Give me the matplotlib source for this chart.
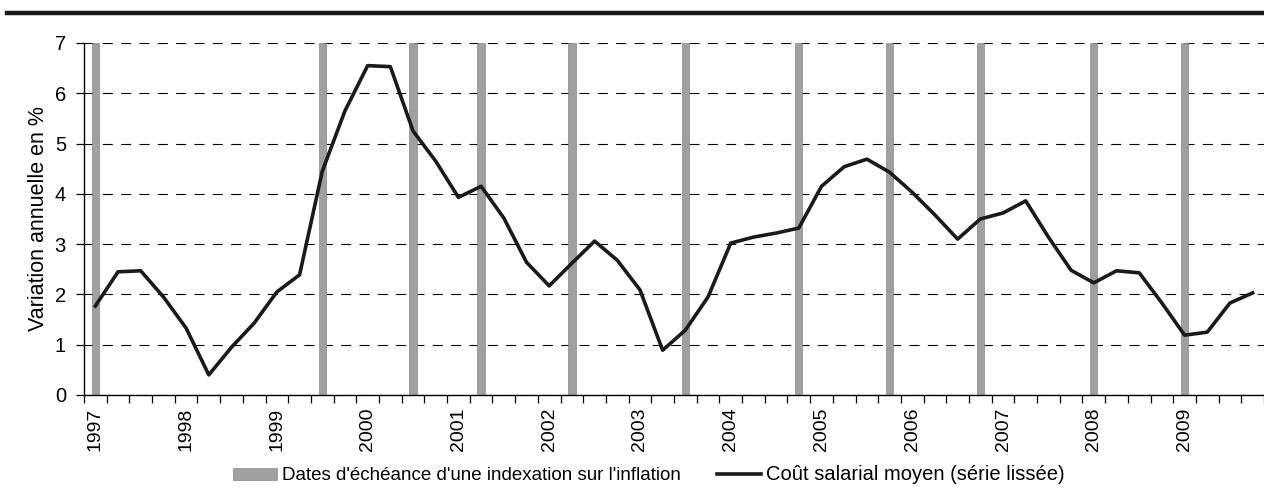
import matplotlib
matplotlib.use('Agg')
import matplotlib.pyplot as plt
from matplotlib.lines import Line2D
import numpy as np

plt.rcParams['font.family'] = ['Liberation Sans', 'DejaVu Sans']

# Quarterly series, 1997 T1 to 2009 T4
years = list(range(1997, 2010))
quarters = [f"{y}T{q}" for y in years for q in range(1, 5)]

cout_salarial = [1.77, 2.45, 2.47, 1.95, 1.33, 0.40, 0.95, 1.43,
                 2.05, 2.39, 4.45, 5.65, 6.55, 6.53, 5.25, 4.65,
                 3.93, 4.15, 3.52, 2.64, 2.17, 2.62, 3.06, 2.68,
                 2.09, 0.89, 1.29, 1.95, 3.02, 3.14, 3.22, 3.32,
                 4.15, 4.54, 4.69, 4.43, 4.03, 3.58, 3.10, 3.50,
                 3.62, 3.86, 3.14, 2.48, 2.23, 2.47, 2.43, 1.83,
                 1.19, 1.25, 1.83, 2.03]

# Quarters with an inflation indexation deadline
indexation = ['1997T1', '1999T3', '2000T3', '2001T2', '2002T2', '2003T3',
              '2004T4', '2005T4', '2006T4', '2008T1', '2009T1']

x = np.arange(len(quarters))
idx_pos = [quarters.index(q) for q in indexation]

fig = plt.figure(figsize=(12.64, 4.87), dpi=100)
ax = fig.add_axes([84 / 1264, 92 / 487, 1180 / 1264, 352 / 487])

bars = ax.bar(idx_pos, [7] * len(idx_pos), width=0.32, color='#a0a0a0',
              edgecolor='#888888', linewidth=0.5, zorder=2,
              label="Dates d'échéance d'une indexation sur l'inflation")
line, = ax.plot(x, cout_salarial, color='#1a1a1a', lw=2.6, zorder=3,
                label='Coût salarial moyen (série lissée)')

ax.set_xlim(-0.5, -0.5 + 1180 / 22.75)
ax.set_ylim(0, 7)
ax.set_yticks(range(0, 8))
ax.yaxis.grid(True, linestyle=(0, (9, 7.5)), color='black', lw=0.8)
ax.set_axisbelow(True)

ax.set_xticks(x[::4])
ax.set_xticklabels([str(y) for y in years], rotation=90)
ax.set_xticks(np.arange(-0.5, len(quarters), 1), minor=True)
ax.tick_params(axis='x', which='major', length=0, pad=9, labelsize=14)
ax.tick_params(axis='x', which='minor', length=6, width=0.9, direction='out')
ax.tick_params(axis='y', length=6, width=0.9, labelsize=14.5, pad=7)

for s in ['top', 'right']:
    ax.spines[s].set_visible(False)
for s in ['left', 'bottom']:
    ax.spines[s].set_linewidth(1.0)

ax.set_ylabel('Variation annuelle en %', fontsize=15.5, labelpad=4)

leg = fig.legend(handles=[bars, line], loc='center', bbox_to_anchor=(649 / 1264, 1 - 475 / 487),
                 ncol=2, frameon=False, fontsize=13.5, handlelength=2.35, columnspacing=1.9,
                 handletextpad=0.28, handleheight=0.6)
leg.get_texts()[1].set_fontsize(14.5)

# thick rule across the top
fig.add_artist(Line2D([7 / 1264, 1], [1 - 13 / 487] * 2, color='#1a1a1a', lw=3.2))

fig.savefig('out.png', dpi=100)
